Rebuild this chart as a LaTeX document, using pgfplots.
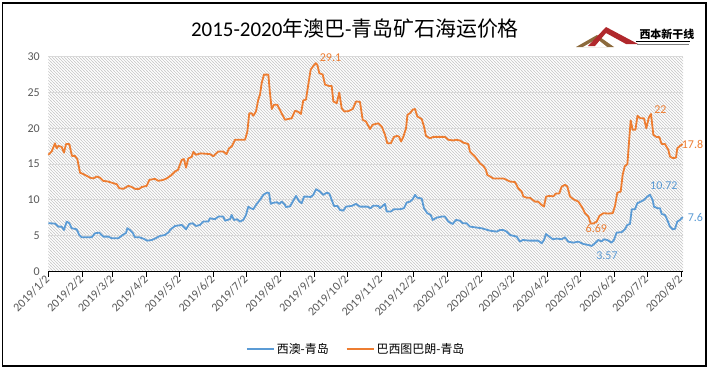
\documentclass[border=0pt]{standalone}
\usepackage{pgfplots}
\pgfplotsset{compat=1.18}
\usepackage{fontspec}
\setmainfont{Carlito}
\newfontfamily\cjk{Noto Sans CJK SC}
\usetikzlibrary{patterns}
\definecolor{sblue}{HTML}{5B9BD5}
\definecolor{sorange}{HTML}{ED7D31}
\definecolor{ticklab}{HTML}{595959}
\definecolor{gridc}{HTML}{D9D9D9}
\definecolor{hatchc}{HTML}{C8C8C8}
\definecolor{logored}{HTML}{B0282C}
\definecolor{logogold}{HTML}{8C6A3C}
\pgfdeclarepatternformonly{xlhatch}{\pgfqpoint{-1bp}{-1bp}}{\pgfqpoint{4bp}{4bp}}{\pgfqpoint{3bp}{3bp}}{%
  \pgfsetlinewidth{0.6bp}%
  \pgfpathmoveto{\pgfqpoint{-0.5bp}{3.5bp}}%
  \pgfpathlineto{\pgfqpoint{3.5bp}{-0.5bp}}%
  \pgfusepath{stroke}}
\begin{document}
\begin{tikzpicture}
\path[use as bounding box, fill=white] (0,0) rectangle (711bp,-371bp);
\draw[black, line width=1.2bp] (2.5bp,-3bp) rectangle (706bp,-366bp);
\node[font=\fontsize{21}{24}\selectfont] at (355bp,-29bp) {2015-2020{\cjk 年澳巴}-{\cjk 青岛矿石海运价格}};
% logo
\begin{scope}[x=1bp,y=-1bp]
\fill[logogold] (576,47) -- (597,35) -- (614,47) -- cycle;
\fill[white] (583,47) -- (597,39) -- (607,47) -- cycle;
\fill[logored] (588,46) -- (606,27) -- (638,44) -- (626,44) -- (606,33) -- (595,46) -- cycle;
\node[font=\cjk\bfseries\fontsize{11}{12}\selectfont, anchor=west] at (636,34) {西本新干线};
\draw[black, line width=0.8] (636,41.5) -- (690,41.5);
\draw[gray, line width=1.2] (637,44.5) -- (689,44.5);
\end{scope}
\begin{axis}[
  at={(48.3bp,-271.5bp)}, anchor=south west,
  scale only axis, width=634.9bp, height=214.8bp,
  xmin=0, xmax=580, ymin=0, ymax=30,
  clip=false,
  axis background/.style={pattern=xlhatch, pattern color=hatchc},
  axis x line*=bottom, axis y line*=left,
  y axis line style={draw=none},
  x axis line style={black, line width=1bp},
  major y tick style={draw=none},
  xtick align=outside,
  major tick length=5bp,
  major x tick style={black, line width=1bp},
  ytick={0,5,10,15,20,25,30},
  ymajorgrids, grid style={gridc, line width=1bp},
  xtick={0,31,59,90,120,151,181,212,243,273,304,334,365,396,425,456,486,517,547,578},
  xticklabels={2019/1/2,2019/2/2,2019/3/2,2019/4/2,2019/5/2,2019/6/2,2019/7/2,2019/8/2,2019/9/2,2019/10/2,2019/11/2,2019/12/2,2020/1/2,2020/2/2,2020/3/2,2020/4/2,2020/5/2,2020/6/2,2020/7/2,2020/8/2},
  /pgf/number format/assume math mode=true,
  tick label style={text=ticklab, font=\fontsize{12}{14}\selectfont},
  xticklabel style={rotate=45, anchor=east, inner sep=1bp},
  yticklabel style={xshift=-5bp},
  legend style={at={(0.485,-0.361)}, anchor=center, draw=none, fill=none,
    legend columns=2, font=\cjk\fontsize{12}{14}\selectfont,
    /tikz/every even column/.append style={column sep=15bp}},
  legend image code/.code={\draw[#1] (0bp,0bp) -- (27bp,0bp);},
]
\addplot[sblue, line width=1.8bp, line join=round] coordinates {
(0,6.74)(6.1,6.7)(9.1,6.27)(12.2,6.27)(14.3,5.8)(16.8,6.97)(19.2,6.74)(21.4,6.04)(25.9,5.9)(28.3,5.1)(30.5,4.78)(39.6,4.78)(42.7,5.34)(46.6,5.43)(50.2,4.87)(54.8,4.87)(57.9,4.64)(63.9,4.64)(68.0,5.1)(71.0,5.4)(72.2,6.04)(74.6,5.8)(77.1,5.4)(79.2,4.78)(83.1,4.78)(86.8,4.59)(90.4,4.31)(94.5,4.4)(97.5,4.6)(102.0,4.97)(106.6,5.1)(110.5,5.57)(111.2,5.8)(115.7,6.36)(121.9,6.5)(125.8,5.9)(128.8,6.64)(131.9,6.74)(134.9,6.36)(138.6,6.5)(141.6,6.97)(146.2,6.97)(147.7,7.44)(152.3,7.3)(155.3,7.67)(159.9,7.67)(161.4,7.1)(166.0,7.3)(167.5,7.9)(169.6,7.2)(172.7,7.3)(175.1,6.97)(178.1,7.2)(180.6,7.9)(182.7,9.06)(184.9,8.84)(187.3,8.7)(190.4,9.44)(193.4,10.0)(196.4,10.7)(199.5,11.0)(201.6,11.0)(203.2,9.44)(205.5,9.6)(209.2,9.67)(211.0,9.44)(213.2,9.76)(216.2,9.3)(217.1,9.0)(220.8,9.1)(223.3,9.76)(226.3,10.56)(229.3,9.76)(231.5,9.54)(233.6,10.46)(236.6,10.46)(239.7,10.4)(242.1,10.7)(244.6,11.5)(248.2,11.16)(251.2,10.7)(254.3,11.0)(256.7,10.9)(258.9,10.0)(261.0,9.16)(264.0,9.16)(266.5,8.6)(269.5,8.5)(271.9,9.06)(277.2,9.16)(281.1,9.44)(284.7,9.06)(291.4,9.06)(294.5,8.84)(296.9,9.2)(301.5,9.16)(303.0,8.84)(307.6,9.44)(309.1,8.37)(312.8,8.37)(315.8,8.7)(321.3,8.7)(324.9,8.84)(327.4,9.63)(330.4,9.76)(332.9,10.1)(335.0,10.7)(337.1,10.3)(341.1,10.2)(343.2,8.84)(346.2,8.14)(349.3,7.9)(351.2,7.2)(354.8,7.53)(359.4,7.67)(362.4,7.67)(365.4,6.97)(369.4,6.64)(372.4,7.2)(376.1,7.1)(378.6,6.74)(382.2,6.74)(385.2,6.27)(395.9,6.04)(403.5,5.7)(409.6,5.57)(412.6,5.8)(415.6,5.8)(418.7,5.57)(421.8,5.1)(427.9,4.87)(430.9,4.17)(433.4,4.4)(440.0,4.31)(447.6,4.31)(450.7,3.94)(452.8,4.4)(454.7,5.24)(457.7,4.87)(460.8,4.5)(464.4,4.6)(469.0,4.5)(472.0,4.78)(475.0,4.17)(479.6,4.03)(484.2,4.17)(488.7,3.85)(493.3,3.71)(496.4,3.57)(499.4,3.94)(502.4,4.4)(505.5,4.2)(507.6,4.5)(510.6,4.4)(514.6,4.03)(516.7,4.4)(519.2,5.43)(523.8,5.5)(526.8,5.9)(528.9,6.5)(531.4,6.64)(533.0,8.7)(536.0,8.7)(538.1,9.54)(541.2,9.76)(544.2,10.0)(547.2,10.46)(549.6,10.72)(552.1,10.0)(553.3,9.06)(556.3,8.84)(558.8,8.84)(560.3,8.04)(563.3,7.9)(564.8,7.44)(567.9,6.27)(570.4,5.9)(572.5,5.95)(574.6,6.97)(577.1,7.2)(579.5,7.6)
};
\addlegendentry{西澳-青岛}
\addplot[sorange, line width=1.8bp, line join=round] coordinates {
(0,16.3)(3.1,16.76)(6.1,17.9)(7.7,17.2)(9.1,17.55)(12.2,17.4)(14.3,16.6)(16.2,17.8)(19.2,17.8)(21.6,16.15)(24.4,16.15)(26.5,15.7)(29.0,13.8)(33.5,13.5)(38.1,13.1)(41.1,13.0)(44.2,13.26)(47.3,13.1)(50.2,12.66)(54.8,12.56)(59.4,12.33)(62.5,12.2)(64.9,11.63)(68.5,11.54)(73.1,11.96)(76.2,11.8)(79.2,11.54)(83.1,11.54)(85.3,11.8)(89.9,11.96)(92.3,12.8)(97.5,12.94)(100.5,12.66)(105.1,12.8)(108.2,13.0)(112.7,13.5)(115.7,13.96)(118.5,14.2)(121.9,15.6)(124.0,15.7)(125.8,14.5)(127.9,15.8)(131.0,16.0)(132.5,16.7)(134.9,16.3)(139.0,16.5)(147.7,16.4)(150.7,16.1)(155.3,16.76)(159.9,16.76)(162.8,16.4)(165.1,17.2)(167.5,17.46)(170.6,18.4)(179.7,18.4)(181.8,19.5)(183.6,22.1)(185.8,22.1)(187.3,21.75)(189.7,22.35)(191.8,24.0)(193.4,24.7)(194.9,26.3)(197.0,27.5)(201.0,27.5)(202.5,24.9)(204.1,22.7)(206.2,23.3)(209.2,23.3)(212.3,22.35)(216.2,21.2)(219.2,21.3)(222.3,21.4)(225.4,22.45)(228.4,22.3)(230.8,22.0)(232.9,23.9)(235.4,24.0)(237.5,26.1)(239.7,28.2)(242.1,28.7)(244.3,29.1)(245.7,28.9)(247.6,27.7)(250.7,27.5)(252.8,26.1)(256.7,25.9)(258.9,25.9)(260.4,23.75)(263.5,23.5)(265.8,25.0)(268.0,22.8)(270.4,22.35)(274.1,22.4)(278.1,22.7)(281.1,23.75)(284.7,23.7)(287.2,21.2)(290.2,20.95)(293.9,19.9)(296.3,20.5)(301.5,20.7)(304.6,20.25)(307.6,19.1)(309.7,17.9)(312.8,17.9)(315.8,18.8)(318.8,18.95)(320.6,18.8)(322.2,18.15)(324.3,18.8)(326.8,20.0)(328.1,21.9)(330.4,22.1)(332.9,22.6)(335.0,22.7)(337.1,21.65)(341.1,21.3)(343.2,20.25)(345.0,18.95)(348.7,18.6)(351.7,18.8)(362.4,18.8)(365.4,18.4)(370.0,18.3)(372.4,18.4)(376.1,18.3)(379.1,18.0)(383.7,17.8)(385.2,16.76)(389.8,16.06)(394.4,15.1)(397.4,14.75)(399.8,14.2)(401.0,13.5)(406.5,13.0)(415.6,13.0)(418.7,12.8)(421.8,12.56)(426.3,12.5)(429.3,11.63)(432.4,11.16)(433.9,10.5)(437.0,10.3)(440.0,10.3)(444.6,9.76)(447.6,9.76)(450.7,9.3)(452.8,9.06)(454.7,10.46)(457.7,10.56)(461.3,10.5)(463.8,10.9)(466.8,10.9)(469.0,11.86)(472.0,12.1)(474.1,11.9)(476.6,10.46)(479.6,10.1)(484.2,9.76)(487.3,9.06)(490.3,8.14)(493.4,7.67)(495.5,6.69)(497.9,6.7)(501.0,6.97)(503.4,7.76)(507.0,8.14)(511.6,8.1)(515.6,8.14)(517.7,9.16)(519.8,11.0)(522.9,11.16)(524.7,13.5)(526.6,14.7)(529.0,15.0)(532.0,21.1)(533.8,19.8)(536.4,19.8)(538.2,21.75)(541.0,21.4)(544.2,21.4)(546.3,20.0)(548.6,21.5)(550.6,22.0)(552.7,19.1)(555.8,18.77)(558.2,18.77)(560.3,17.8)(563.3,17.8)(566.4,17.0)(567.9,16.06)(570.4,15.83)(573.4,15.9)(574.6,17.2)(577.1,17.55)(579.5,17.8)
};
\addlegendentry{巴西图巴朗-青岛}
\begin{scope}[font=\fontsize{12}{14}\selectfont]
\node[text=sorange] at (axis cs:257.8,29.82) {29.1};
\node[text=sorange] at (axis cs:559.1,22.59) {22};
\node[text=sorange] at (axis cs:588.5,17.79) {17.8};
\node[text=sorange] at (axis cs:500.6,6.04) {6.69};
\node[text=sblue] at (axis cs:562.3,11.96) {10.72};
\node[text=sblue] at (axis cs:591.2,7.58) {7.6};
\node[text=sblue] at (axis cs:510.4,2.21) {3.57};
\end{scope}
\end{axis}
\end{tikzpicture}
\end{document}
